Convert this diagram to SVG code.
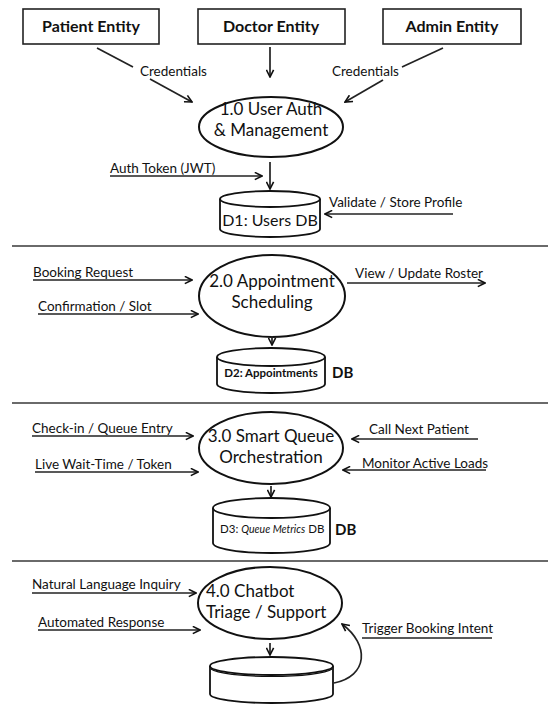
<svg xmlns="http://www.w3.org/2000/svg" width="548" height="709" viewBox="0 0 548 709">
<defs>
<marker id="ah" viewBox="0 0 10 10" refX="9" refY="5" markerWidth="9" markerHeight="9" markerUnits="userSpaceOnUse" orient="auto">
<path d="M1,1 L9,5 L1,9" fill="none" stroke="#111" stroke-width="1.8" stroke-linejoin="miter"/>
</marker>
</defs>
<style>
text{font-family:Lato,"Open Sans","DejaVu Sans",sans-serif;fill:#111}
.box{fill:#fff;stroke:#222;stroke-width:1.6}
.ent{font-size:16px;font-weight:bold}
.proc{fill:#fff;stroke:#111;stroke-width:2}
.pt{font-size:17px}
.lbl{font-size:13.5px}
.db{fill:#fff;stroke:#111;stroke-width:1.8}
.f{fill:none;stroke:#222;stroke-width:1.7}
.sep{stroke:#6a6a6a;stroke-width:2.2}
</style>
<rect width="548" height="709" fill="#fff"/>

<g id="separators">
<line class="sep" x1="12" y1="246" x2="548" y2="246"/>
<line class="sep" x1="12" y1="403" x2="548" y2="403"/>
<line class="sep" x1="12" y1="561" x2="548" y2="561"/>
</g>

<g id="patient"><rect class="box" x="23" y="9" width="136" height="35"/><text class="ent" x="91" y="32" text-anchor="middle">Patient Entity</text></g>
<g id="doctor"><rect class="box" x="198" y="9" width="147" height="35"/><text class="ent" x="271" y="32" text-anchor="middle">Doctor Entity</text></g>
<g id="admin"><rect class="box" x="383" y="9" width="138" height="35"/><text class="ent" x="452" y="32" text-anchor="middle">Admin Entity</text></g>

<g id="p1"><ellipse class="proc" cx="271" cy="127" rx="72" ry="30"/><text class="pt" x="271" y="115" text-anchor="middle">1.0 User Auth</text><text class="pt" x="271" y="136" text-anchor="middle">&amp; Management</text></g>
<g id="d1"><path class="db" d="M220,199 L220,229 A50,8 0 0 0 320,229 L320,199"/><ellipse class="db" cx="270" cy="199" rx="50" ry="8"/><text x="270" y="226" font-size="16" text-anchor="middle">D1: Users DB</text></g>

<g id="p2"><ellipse class="proc" cx="272" cy="296" rx="73" ry="41"/><text class="pt" x="272" y="287" text-anchor="middle">2.0 Appointment</text><text class="pt" x="272" y="308" text-anchor="middle">Scheduling</text></g>
<g id="d2"><path class="db" d="M217,357 L217,384 A54,9 0 0 0 325,384 L325,357"/><ellipse class="db" cx="271" cy="357" rx="54" ry="9"/><text x="271" y="377" font-size="11.5" font-weight="bold" text-anchor="middle">D2: Appointments</text><text x="332" y="378" font-size="15" font-weight="bold">DB</text></g>

<g id="p3"><ellipse class="proc" cx="271" cy="448" rx="72" ry="36"/><text class="pt" x="271" y="442" text-anchor="middle">3.0 Smart Queue</text><text class="pt" x="271" y="463" text-anchor="middle">Orchestration</text></g>
<g id="d3"><path class="db" d="M213,508 L213,543 A58.5,10 0 0 0 330,543 L330,508"/><ellipse class="db" cx="271.5" cy="508" rx="58.5" ry="10"/><text x="220" y="533" font-size="11.5">D3: <tspan font-style="italic" font-size="10.5">Queue Metrics</tspan> DB</text><text x="335" y="535" font-size="15" font-weight="bold">DB</text></g>

<g id="p4"><ellipse class="proc" cx="270" cy="603" rx="72" ry="36"/><text class="pt" x="206" y="597">4.0 Chatbot</text><text class="pt" x="206" y="618">Triage / Support</text></g>
<g id="d4"><path class="db" d="M210,666 L210,694 A61.5,9 0 0 0 333,694 L333,666"/><ellipse class="db" cx="271.5" cy="666" rx="61.5" ry="9"/><path d="M211,669 A61.5,9 0 0 0 332,669" fill="none" stroke="#111" stroke-width="1.2"/></g>

<g id="connectors">
<line class="f" x1="97" y1="48" x2="133" y2="67"/>
<line class="f" x1="150" y1="79" x2="192" y2="102" marker-end="url(#ah)"/>
<line class="f" x1="270" y1="47" x2="270" y2="77" marker-end="url(#ah)"/>
<line class="f" x1="443" y1="48" x2="402" y2="67"/>
<line class="f" x1="383" y1="80" x2="345" y2="102" marker-end="url(#ah)"/>
<line class="f" x1="270" y1="162" x2="270" y2="189" marker-end="url(#ah)"/>
<line class="f" x1="110" y1="176" x2="262" y2="176" marker-end="url(#ah)"/>
<line class="f" x1="453" y1="214" x2="325" y2="214" marker-end="url(#ah)"/>
<line class="f" x1="33" y1="280" x2="192" y2="280" marker-end="url(#ah)"/>
<line class="f" x1="38" y1="314" x2="198" y2="314" marker-end="url(#ah)"/>
<line class="f" x1="347" y1="283" x2="485" y2="283" marker-end="url(#ah)"/>
<line class="f" x1="272" y1="336" x2="272" y2="345" marker-end="url(#ah)"/>
<line class="f" x1="32" y1="436" x2="193" y2="436" marker-end="url(#ah)"/>
<line class="f" x1="35" y1="472" x2="198" y2="472" marker-end="url(#ah)"/>
<line class="f" x1="478" y1="439" x2="352" y2="439" marker-end="url(#ah)"/>
<line class="f" x1="486" y1="470" x2="343" y2="470" marker-end="url(#ah)"/>
<line class="f" x1="271" y1="486" x2="271" y2="497" marker-end="url(#ah)"/>
<line class="f" x1="32" y1="593" x2="196" y2="593" marker-end="url(#ah)"/>
<line class="f" x1="38" y1="630" x2="200" y2="630" marker-end="url(#ah)"/>
<line class="f" x1="362" y1="638" x2="492" y2="638"/>
<path class="f" d="M334,683 C368,676 370,645 342,624" marker-end="url(#ah)"/>
<line class="f" x1="270" y1="643" x2="270" y2="655" marker-end="url(#ah)"/>
</g>

<g id="labels">
<text class="lbl" x="140" y="76">Credentials</text>
<text class="lbl" x="332" y="76">Credentials</text>
<text class="lbl" x="110" y="173">Auth Token (JWT)</text>
<text class="lbl" x="329" y="207">Validate / Store Profile</text>
<text class="lbl" x="33" y="277">Booking Request</text>
<text class="lbl" x="38" y="311">Confirmation / Slot</text>
<text class="lbl" x="355" y="278">View / Update Roster</text>
<text class="lbl" x="32" y="433">Check-in / Queue Entry</text>
<text class="lbl" x="35" y="469">Live Wait-Time / Token</text>
<text class="lbl" x="369" y="434">Call Next Patient</text>
<text class="lbl" x="362" y="468">Monitor Active Loads</text>
<text class="lbl" x="32" y="589">Natural Language Inquiry</text>
<text class="lbl" x="38" y="627">Automated Response</text>
<text class="lbl" x="362" y="633">Trigger Booking Intent</text>
</g>
</svg>
